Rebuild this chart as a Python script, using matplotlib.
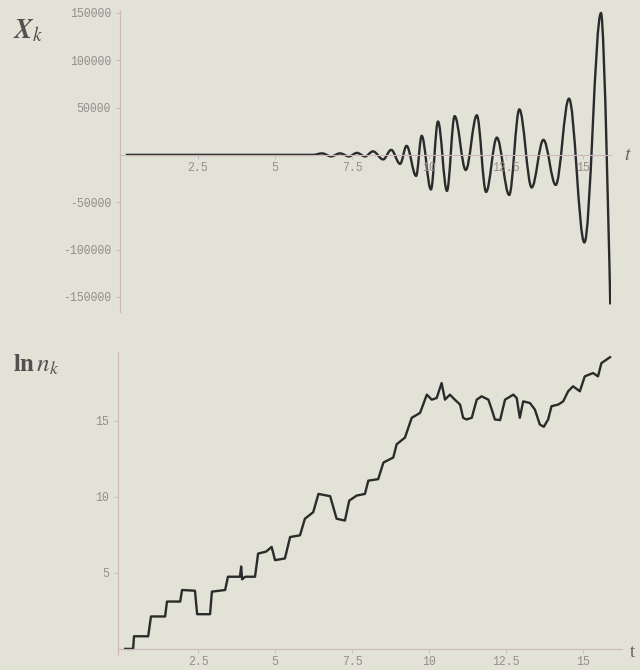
import matplotlib
matplotlib.use("Agg")
import matplotlib.pyplot as plt
from matplotlib.path import Path
from matplotlib.patches import PathPatch
import numpy as np

# top panel: x_k against t (turning points)
t_top = [0.16, 5.81, 6.23, 6.53, 6.82, 7.11, 7.40, 7.66, 7.92, 8.18, 8.51, 8.77,
         9.06, 9.27, 9.58, 9.76, 10.06, 10.29, 10.58, 10.83, 11.19, 11.55, 11.85,
         12.20, 12.60, 12.93, 13.33, 13.71, 14.11, 14.54, 15.04, 15.58, 15.88]
x_top = [0, 0, 0, 1600, -1600, 1600, -1600, 2100, -1600, 3700, -4800, 5300,
         -9500, 9500, -22200, 20100, -36500, 35200, -38000, 40900, -15900, 41800, -39100,
         18200, -42300, 48000, -34400, 15900, -31700, 59400, -92500, 149800, -158000]

# bottom panel: ln n_k against t
t_bot = [0.13, 0.39, 0.42, 0.88, 0.97, 1.43, 1.49, 1.92, 1.98, 2.40, 2.47, 2.89,
         2.95, 3.38, 3.47, 3.86, 3.90, 3.93, 4.03, 4.35, 4.45, 4.71, 4.89, 5.00,
         5.32, 5.49, 5.81, 5.97, 6.24, 6.41, 6.79, 7.00, 7.27, 7.41, 7.65, 7.92,
         8.03, 8.35, 8.52, 8.84, 8.95, 9.22, 9.44, 9.71, 9.93, 10.09, 10.25, 10.41,
         10.52, 10.68, 10.84, 11.01, 11.11, 11.22, 11.39, 11.55, 11.71, 11.93, 12.04,
         12.14, 12.31, 12.47, 12.74, 12.85, 12.95, 13.06, 13.28, 13.44, 13.60, 13.73,
         13.87, 13.98, 14.20, 14.36, 14.52, 14.68, 14.90, 15.06, 15.33, 15.49, 15.60, 15.88]
ln_bot = [0.0, 0.0, 0.83, 0.83, 2.13, 2.13, 3.11, 3.11, 3.87, 3.82, 2.28, 2.28,
          3.76, 3.87, 4.74, 4.74, 5.41, 4.57, 4.74, 4.74, 6.26, 6.39, 6.70, 5.83,
          5.94, 7.35, 7.46, 8.55, 8.98, 10.18, 10.03, 8.55, 8.43, 9.74, 10.07, 10.18,
          11.05, 11.15, 12.24, 12.57, 13.44, 13.88, 15.18, 15.50, 16.70, 16.37, 16.48, 17.46,
          16.37, 16.70, 16.37, 16.05, 15.18, 15.07, 15.18, 16.37, 16.59, 16.37, 15.72,
          15.07, 15.03, 16.37, 16.70, 16.48, 15.18, 16.26, 16.15, 15.72, 14.74, 14.59,
          15.07, 15.94, 16.05, 16.26, 16.92, 17.25, 16.92, 17.90, 18.12, 17.90, 18.77, 19.16]

top_yticks = [-150000, -100000, -50000, 50000, 100000, 150000]
x_ticks = [2.5, 5, 7.5, 10, 12.5, 15]
x_ticklabels = ["2.5", "5", "7.5", "10", "12.5", "15"]
bot_yticks = [5, 10, 15]

bg = "#e2e2d7"
axc = "#cdb9bb"
txt = "#968d8d"
ink = "#2b2b2b"
plt.rcParams["mathtext.fontset"] = "stix"
plt.rcParams["axes.unicode_minus"] = False

fig = plt.figure(figsize=(6.4, 6.7), dpi=100, facecolor=bg)

def style(ax):
    ax.set_facecolor(bg)
    ax.spines["top"].set_visible(False)
    ax.spines["right"].set_visible(False)
    for s in ["left", "bottom"]:
        ax.spines[s].set_color(axc)
        ax.spines[s].set_linewidth(0.8)
    ax.spines["bottom"].set_position(("data", 0))
    ax.tick_params(colors=axc, labelcolor=txt, length=3, width=0.7, labelsize=8.3)
    ax.tick_params(axis="x", pad=2)
    for lab in ax.get_xticklabels() + ax.get_yticklabels():
        lab.set_family("Liberation Mono")

# top: smooth curve through the turning points (flat tangents at each extremum)
ax1 = fig.add_axes([0.1875, 0.5343, 0.767, 0.4507])
verts = [(t_top[0], x_top[0])]
codes = [Path.MOVETO]
k = 0.36
for i in range(1, len(t_top)):
    t0, v0 = t_top[i - 1], x_top[i - 1]
    t1, v1 = t_top[i], x_top[i]
    dt = t1 - t0
    c2 = (t1 - k * dt, v1) if i < len(t_top) - 1 else (t1, v1)
    verts += [(t0 + k * dt, v0), c2, (t1, v1)]
    codes += [Path.CURVE4] * 3
ax1.add_patch(PathPatch(Path(verts, codes), fill=False, edgecolor=ink, lw=1.7))
ax1.set_xlim(-0.03, 15.9)
ax1.set_ylim(-166000, 153000)
ax1.set_yticks(top_yticks)
ax1.set_yticklabels([str(v) for v in top_yticks])
ax1.set_xticks(x_ticks)
ax1.set_xticklabels(x_ticklabels)
style(ax1)

ax2 = fig.add_axes([0.1844, 0.0224, 0.7875, 0.4522])
ax2.plot(t_bot, ln_bot, color=ink, lw=1.7, solid_joinstyle="round")
ax2.set_xlim(-0.1, 16.27)
ax2.set_ylim(-0.4, 19.5)
ax2.set_yticks(bot_yticks)
ax2.set_yticklabels([str(v) for v in bot_yticks])
ax2.set_xticks(x_ticks)
ax2.set_xticklabels(x_ticklabels)
style(ax2)

fig.text(0.02, 0.955, r"$\boldsymbol{X}_{k}$", fontsize=20, color="#555050", va="center")
fig.text(0.02, 0.456, r"$\mathbf{ln}\,n_{k}$", fontsize=18, color="#555050", va="center")
fig.text(0.981, 0.769, r"$t$", fontsize=14, color="#666060", ha="center", va="center")
fig.text(0.988, 0.026, "t", fontsize=13, family="Liberation Serif", color="#666060",
         ha="center", va="center")

fig.savefig("out.png", dpi=100, facecolor=bg)
